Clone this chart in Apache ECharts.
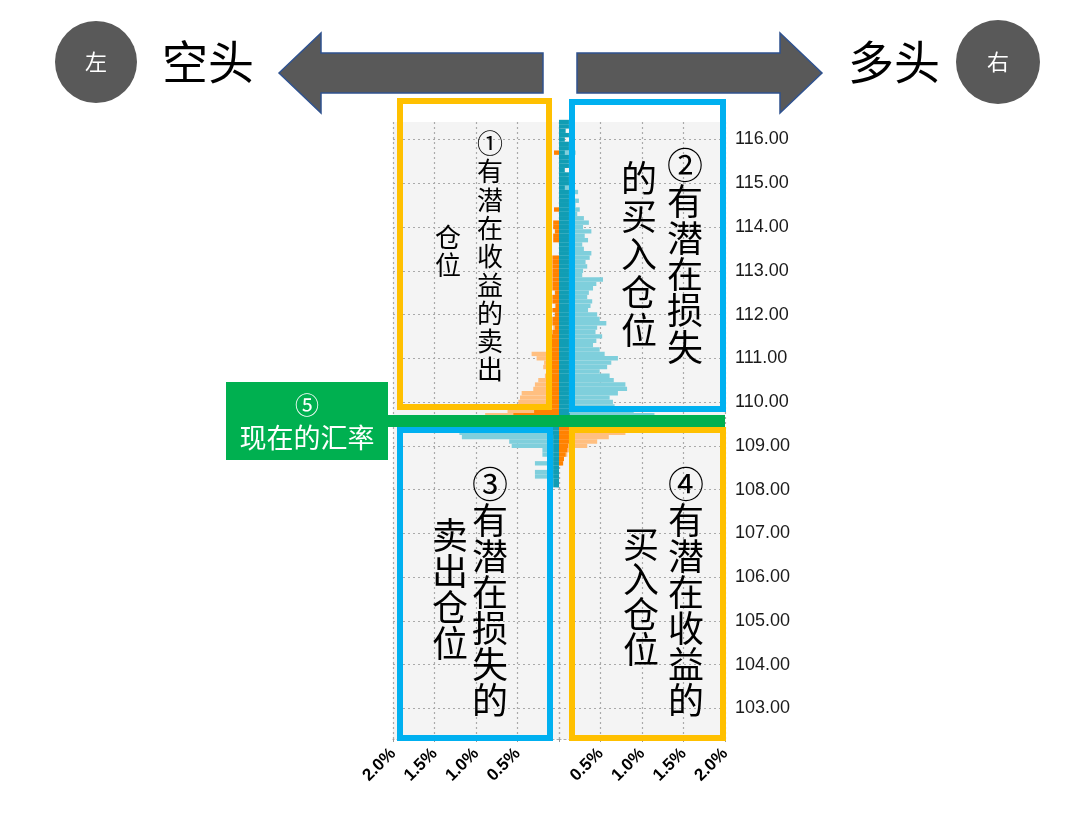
<!DOCTYPE html>
<html>
<head>
<meta charset="utf-8">
<script src="https://cdn.jsdelivr.net/npm/echarts/dist/echarts.min.js"></script>
<style>
html,body{margin:0;padding:0;background:#fff}
#chart{width:1070px;height:814px}
</style>
</head>
<body>
<div id="chart"></div>
<script>
// price bins (0.1 step), bottom to top
const prices = []
for (let i = 1023; i <= 1164; i++) prices.push((i / 10).toFixed(1))

// above the current rate, listed from 109.6 upward
const aboveStart = '109.6'
const shortAboveLight = [0.95, 0.89, 0.62, 0.55, 0.49, 0.47, 0.45, 0.31, 0.29, 0.25,
  0.17, 0.15, 0.19, 0.18, 0.27, 0.33, 0.14, 0.12, 0.10, 0.08,
  0.06, 0.07, 0.05, 0.06, 0.05, 0.04, 0.05, 0.03, 0.04, 0.03]
const shortAboveDark = [0.60, 0.55, 0.30, 0.17, 0.14, 0.09, 0.09, 0.09, 0.09, 0.09,
  0.09, 0.09, 0.09, 0.09, 0.09, 0.09, 0.09, 0.09, 0.09, 0.09,
  0.08, 0.05, 0.08, 0.08, 0.05, 0.08, 0.04, 0.08, 0.08, 0.05,
  0.08, 0.08, 0.08, 0.08, 0.08, 0.08, 0.08, 0.08, 0, 0,
  0, 0.07, 0.07, 0.05, 0.07, 0.07, 0, 0, 0.06, 0,
  0, 0, 0, 0, 0, 0, 0, 0, 0, 0,
  0, 0.06, 0, 0, 0, 0, 0, 0, 0]
const longAboveLight = [1.20, 1.15, 0.90, 0.67, 0.65, 0.61, 0.71, 0.82, 0.80, 0.66,
  0.61, 0.49, 0.58, 0.63, 0.71, 0.55, 0.49, 0.41, 0.45, 0.52,
  0.44, 0.46, 0.57, 0.49, 0.46, 0.35, 0.38, 0.40, 0.34, 0.36,
  0.41, 0.45, 0.53, 0.28, 0.29, 0.34, 0.32, 0.37, 0.39, 0.30,
  0.28, 0.35, 0.31, 0.39, 0.29, 0.36, 0.30, 0.22, 0.25, 0.20,
  0.24, 0.18, 0.23, 0.15, 0.12, 0.10, 0.08, 0.05, 0.10, 0.03,
  0.05, 0.20, 0, 0.02, 0.03, 0, 0.02, 0, 0]
const longAboveDark = [0.14, 0.13, 0.12, 0.12, 0.12, 0.12, 0.12, 0.12, 0.12, 0.12,
  0.12, 0.12, 0.12, 0.12, 0.12, 0.12, 0.12, 0.12, 0.12, 0.12,
  0.12, 0.12, 0.12, 0.12, 0.12, 0.12, 0.12, 0.12, 0.12, 0.12,
  0.12, 0.12, 0.12, 0.12, 0.12, 0.12, 0.12, 0.12, 0.12, 0.12,
  0.12, 0.12, 0.12, 0.12, 0.12, 0.12, 0.12, 0.12, 0.12, 0.12,
  0.12, 0.12, 0.12, 0.07, 0.12, 0.12, 0.12, 0.07, 0.12, 0.12,
  0.12, 0.07, 0.12, 0.12, 0.07, 0.12, 0.08, 0.12, 0.12]

// below the current rate, listed from 109.5 downward
const belowStart = '109.5'
const shortBelowLight = [1.25, 1.20, 1.20, 1.17, 0.60, 0.57, 0.20, 0.20, 0.12, 0.29, 0.10, 0.29, 0.29, 0.05, 0.03]
const shortBelowDark = [0.30, 0.20, 0.08, 0.07, 0.07, 0.07, 0.07, 0.07, 0.07, 0.07, 0.07, 0.07, 0.07, 0.07, 0.07]
const longBelowLight = [0.85, 0.85, 0.80, 0.60, 0.46, 0.34, 0.12, 0.10, 0.05, 0.03]
const longBelowDark = [0.13, 0.13, 0.12, 0.12, 0.12, 0.11, 0.10, 0.08, 0.06, 0.05]

const lightOrange = '#ffbf80', darkOrange = '#ff8200'
const lightBlue = '#7fcfdc', darkTeal = '#119db4'

function place(values, start, dir) {
  let out = prices.map(() => 0)
  let i0 = prices.indexOf(start)
  values.forEach((v, k) => { out[i0 + dir * k] = v })
  return out
}
// light bars change colour at the current rate
function lightBars(above, below, colorAbove, colorBelow) {
  let a = place(above, aboveStart, 1)
  let b = place(below, belowStart, -1)
  let split = prices.indexOf(aboveStart)
  return a.map((v, i) => i >= split
    ? { value: v, itemStyle: { color: colorAbove } }
    : { value: b[i], itemStyle: { color: colorBelow } })
}

const isWhole = (v) => Math.abs(parseFloat(v) - Math.round(parseFloat(v))) < 1e-6
const dotted = { color: '#aaaaaa', type: [2, 3], width: 1.2 }

function xAxis(idx, inverse) {
  return {
    gridIndex: idx, type: 'value', min: 0, max: 2, interval: 0.5, inverse: inverse,
    axisLine: { show: true, lineStyle: dotted },
    axisTick: { show: true, length: 3, lineStyle: { color: '#999' } },
    splitLine: { show: true, lineStyle: dotted },
    axisLabel: {
      rotate: 45, margin: 12, color: '#000', fontSize: 17, fontWeight: 'bold',
      fontFamily: 'Liberation Sans',
      formatter: (v) => v === 0 ? '' : v.toFixed(1) + '%'
    }
  }
}
function yAxis(idx, showLabels) {
  return {
    gridIndex: idx, type: 'category', data: prices, boundaryGap: false,
    position: 'right',
    axisLine: { show: false }, axisTick: { show: false },
    splitLine: { show: true, interval: (i, v) => isWhole(v), lineStyle: dotted },
    axisLabel: {
      show: showLabels, interval: (i, v) => isWhole(v), margin: 10,
      color: '#1a1a1a', fontSize: 18, fontFamily: 'Liberation Sans',
      formatter: (v) => parseFloat(v).toFixed(2)
    }
  }
}
function bars(name, data, color, idx) {
  return {
    name: name, type: 'bar', xAxisIndex: idx, yAxisIndex: idx, data: data,
    barGap: '-100%', barCategoryGap: '0%', itemStyle: { color: color }, silent: true
  }
}

function vtext(chars, x, top, size, lh) {
  return {
    type: 'text', x: x, y: top, z: 20,
    style: {
      text: chars.split('').join('\n'), fill: '#000',
      font: size + 'px "Noto Sans CJK SC"', lineHeight: lh,
      align: 'center', verticalAlign: 'top', textAlign: 'center', textVerticalAlign: 'top'
    }
  }
}
function box(x, y, w, h, color) {
  return { type: 'rect', z: 15, shape: { x: x, y: y, width: w, height: h },
    style: { fill: 'none', stroke: color, lineWidth: 6 } }
}
function label(text, x, y, size, color) {
  return { type: 'text', x: x, y: y, z: 20,
    style: { text: text, fill: color, font: size + 'px "Noto Sans CJK SC"',
      align: 'center', verticalAlign: 'middle', textAlign: 'center', textVerticalAlign: 'middle' } }
}

const arrowStyle = { fill: '#595959', stroke: '#2f528f', lineWidth: 1.5 }
const yellow = '#ffc000', blue = '#00b0f0'

const option = {
  animation: false,
  grid: [
    { left: 393, top: 122, width: 166, height: 617, show: true, backgroundColor: '#f4f4f4', borderWidth: 0 },
    { left: 559, top: 122, width: 166, height: 617, show: true, backgroundColor: '#f4f4f4', borderWidth: 0 }
  ],
  xAxis: [xAxis(0, true), xAxis(1, false)],
  yAxis: [yAxis(0, false), yAxis(1, true)],
  series: [
    bars('short', lightBars(shortAboveLight, shortBelowLight, lightOrange, lightBlue), null, 0),
    bars('short recent above', place(shortAboveDark, aboveStart, 1), darkOrange, 0),
    bars('short recent below', place(shortBelowDark, belowStart, -1), darkTeal, 0),
    bars('long', lightBars(longAboveLight, longBelowLight, lightBlue, lightOrange), null, 1),
    bars('long recent above', place(longAboveDark, aboveStart, 1), darkTeal, 1),
    bars('long recent below', place(longBelowDark, belowStart, -1), darkOrange, 1)
  ],
  graphic: [
    // header
    { type: 'circle', z: 10, shape: { cx: 96, cy: 62, r: 41 }, style: { fill: '#595959' } },
    { type: 'circle', z: 10, shape: { cx: 998, cy: 62, r: 42 }, style: { fill: '#595959' } },
    label('左', 96, 62, 22, '#fff'),
    label('右', 998, 62, 22, '#fff'),
    label('空头', 208, 62, 46, '#000'),
    label('多头', 894, 62, 46, '#000'),
    { type: 'polygon', z: 10, shape: { points: [[279, 73], [321, 33], [321, 53], [543, 53], [543, 93], [321, 93], [321, 113]] }, style: arrowStyle },
    { type: 'polygon', z: 10, shape: { points: [[577, 53], [780, 53], [780, 33], [822, 73], [780, 113], [780, 93], [577, 93]] }, style: arrowStyle },
    // quadrant boxes
    box(400, 101, 149, 306, yellow),
    box(572, 102, 151, 307, blue),
    box(400, 430, 150, 308, blue),
    box(572, 430, 151, 308, yellow),
    // current rate
    { type: 'rect', z: 16, shape: { x: 226, y: 415, width: 499, height: 12 }, style: { fill: '#00b050' } },
    { type: 'rect', z: 16, shape: { x: 226, y: 382, width: 162, height: 78 }, style: { fill: '#00b050' } },
    label('⑤', 307, 405, 24, '#fff'),
    label('现在的汇率', 307, 438, 27, '#fff'),
    // box texts
    vtext('①有潜在收益的卖出', 490, 129, 26, 28.3),
    vtext('仓位', 448, 223, 26, 28.3),
    vtext('②有潜在损失', 685, 147, 36, 36.4),
    vtext('的买入仓位', 639, 159, 36, 38),
    vtext('③有潜在损失的', 490, 466, 36, 36),
    vtext('卖出仓位', 450, 517, 36, 36),
    vtext('④有潜在收益的', 686, 466, 36, 36),
    vtext('买入仓位', 641, 527, 36, 35)
  ]
}

const chart = echarts.init(document.getElementById('chart'))
chart.setOption(option)
</script>
</body>
</html>
